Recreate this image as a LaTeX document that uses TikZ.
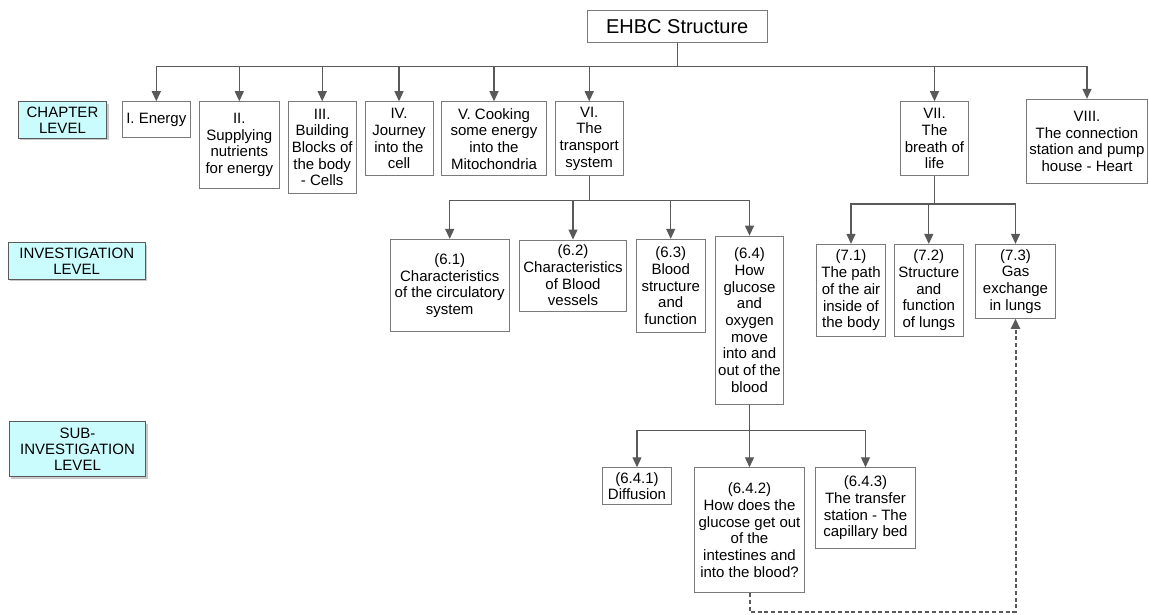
\documentclass[tikz,border=0pt]{standalone}
\usepackage{fontspec}
\setmainfont{Liberation Sans}
\usetikzlibrary{arrows.meta,shadows}
\definecolor{linegray}{HTML}{595959}
\definecolor{boxgray}{HTML}{7A7A7A}
\definecolor{levelfill}{HTML}{CBFCFD}
\definecolor{levelline}{HTML}{5A5A5A}
\tikzset{
  sz/.style 2 args={minimum width=#1pt, minimum height=#2pt},
  box/.style={draw=boxgray, line width=0.9pt, fill=white, align=center,
    inner sep=0pt, text=black, font=\fontsize{15}{16.7}\selectfont},
  level/.style={draw=levelline, line width=0.9pt, fill=levelfill, align=center,
    inner sep=0pt, font=\fontsize{15}{16.4}\selectfont,
    drop shadow={shadow xshift=2pt, shadow yshift=-2pt, fill=gray!70, opacity=0.6}},
  line/.style={draw=linegray, line width=1.2pt},
  arr/.style={line, -{Triangle[length=10pt,width=9pt]}},
  dasharr/.style={draw=linegray, line width=2pt, dash pattern=on 4pt off 2.7pt,
    -{Triangle[length=10pt,width=9pt]}}
}
\begin{document}
\begin{tikzpicture}[x=1pt, y=-1pt]
\path[use as bounding box, fill=white] (0,0) rectangle (1149,615);

% level labels
\node[level,sz={88.4}{36.6}] (L1) at (62.5,120) {CHAPTER\\LEVEL};
\node[level,sz={136.7}{36.6}] (L2) at (76.7,261) {INVESTIGATION\\LEVEL};
\node[level,sz={136.4}{55}] (L3) at (77.5,449.2) {SUB-\\INVESTIGATION\\LEVEL};

% root
\node[box,sz={179.7}{32.3},font=\fontsize{20}{22}\selectfont] (root) at (677.2,26.2) {EHBC Structure};

% chapters
\node[box,sz={68.7}{35.6}] (c1) at (156.3,119.5) {I. Energy};
\node[box,sz={80}{86.6}] (c2) at (239.3,145) {II.\\Supplying\\nutrients\\for energy};
\node[box,sz={67.7}{91.6}] (c3) at (322.2,147.5) {III.\\Building\\Blocks of\\the body\\- Cells};
\node[box,sz={68}{74}] (c4) at (399,138.7) {IV.\\Journey\\into the\\cell};
\node[box,sz={104.6}{74}] (c5) at (494,138.7) {V. Cooking\\some energy\\into the\\Mitochondria};
\node[box,sz={67.7}{74}] (c6) at (589.2,138.7) {VI.\\The\\transport\\system};
\node[box,sz={68.4}{74.3}] (c7) at (934.5,138.8) {VII.\\The\\breath of\\life};
\node[box,sz={121}{84}] (c8) at (1087,141.3) {VIII.\\The connection\\station and pump\\house - Heart};

% investigations of chapter VI
\node[box,sz={119.3}{92.4}] (i61) at (449.7,285.5) {(6.1)\\Characteristics\\of the circulatory\\system};
\node[box,sz={107.4}{71}] (i62) at (573,275.5) {(6.2)\\Characteristics\\of Blood\\vessels};
\node[box,sz={68.7}{93}] (i63) at (670.7,285.8) {(6.3)\\Blood\\structure\\and\\function};
\node[box,sz={68.6}{168.3}] (i64) at (749.5,320.2) {(6.4)\\How\\glucose\\and\\oxygen\\move\\into and\\out of the\\blood};

% investigations of chapter VII
\node[box,sz={68.6}{92.4}] (i71) at (851,290.5) {(7.1)\\The path\\of the air\\inside of\\the body};
\node[box,sz={68.3}{91.7}] (i72) at (928.8,290.2) {(7.2)\\Structure\\and\\function\\of lungs};
\node[box,sz={80.4}{74}] (i73) at (1015.5,281.3) {(7.3)\\Gas\\exchange\\in lungs};

% sub-investigations of 6.4
\node[box,sz={68.6}{36.6}] (s1) at (637,486) {(6.4.1)\\Diffusion};
\node[box,sz={110.3}{125}] (s2) at (749.5,530.2) {(6.4.2)\\How does the\\glucose get out\\of the\\intestines and\\into the blood?};
\node[box,sz={99.6}{80.6}] (s3) at (865.5,508) {(6.4.3)\\The transfer\\station - The\\capillary bed};

% bus junctions
\coordinate (b1) at (677.2,66.7);
\coordinate (b2) at (589.2,200.7);
\coordinate (b3) at (934.5,204);
\coordinate (b4) at (749.5,430.7);

% root to chapters
\draw[line] (root) -- (b1);
\foreach \n in {c1,c2,c3,c4,c5,c6,c7,c8} \draw[arr] (b1) -| (\n);

% chapter VI to its investigations
\draw[line] (c6) -- (b2);
\foreach \n in {i61,i62,i63,i64} \draw[arr] (b2) -| (\n);

% chapter VII to its investigations
\draw[line] (c7) -- (b3);
\foreach \n in {i71,i72,i73} \draw[arr] (b3) -| (\n);

% investigation 6.4 to its sub-investigations
\draw[line] (i64) -- (b4);
\foreach \n in {s1,s2,s3} \draw[arr] (b4) -| (\n);

% dashed link from 6.4.2 to 7.3
\coordinate (d1) at (749.5,611.8);
\coordinate (d2) at (1015.5,611.8);
\draw[dasharr] (s2) -- (d1) -- (d2) -- (i73);
\end{tikzpicture}
\end{document}
